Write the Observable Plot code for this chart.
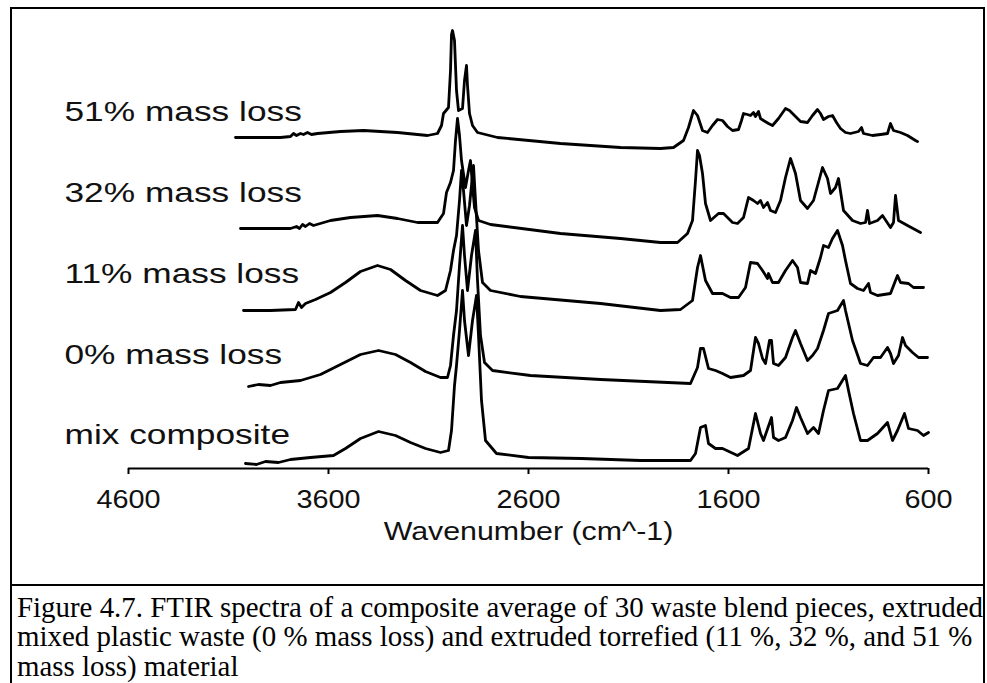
<!DOCTYPE html>
<html>
<head>
<meta charset="utf-8">
<script src="https://cdn.jsdelivr.net/npm/d3@7"></script>
<script src="https://cdn.jsdelivr.net/npm/@observablehq/plot@0.6"></script>
<style>
  html, body { margin: 0; padding: 0; background: #fff; }
  body { width: 987px; height: 683px; position: relative; overflow: hidden; }
  #chart { position: absolute; left: 0; top: 0; }
  #frame { position: absolute; left: 10px; top: 7px; width: 971px; height: 700px; border: 2px solid #000; }
  #sep { position: absolute; left: 10px; top: 584px; width: 975px; height: 2px; background: #000; }
  #caption { position: absolute; left: 17px; top: 592.6px; font-family: "Liberation Serif", "Times New Roman", serif;
             font-size: 28.5px; line-height: 29.5px; color: #000; }
  #caption div { white-space: nowrap; transform-origin: 0 0; width: max-content; }
</style>
</head>
<body>
<div id="frame"></div>
<div id="sep"></div>
<div id="chart"></div>
<div id="caption">
  <div>Figure 4.7. FTIR spectra of a composite average of 30 waste blend pieces, extruded</div>
  <div>mixed plastic waste (0 % mass loss) and extruded torrefied (11 %, 32 %, and 51 %</div>
  <div>mass loss) material</div>
</div>
<script>
// ---- Data: wavenumber (cm^-1) and offset absorbance (a.u.) ----
const seriesNames = ["51% mass loss", "32% mass loss", "11% mass loss", "0% mass loss", "mix composite"];
const xTicks = [4600, 3600, 2600, 1600, 600];
const xTitle = "Wavenumber (cm^-1)";

const wn51 = [4065,3930,3840,3790,3775,3760,3740,3725,3705,3685,3655,3540,3425,3255,3105,3055,3035,3025,3000,2990,2985,2980,2970,2960,2950,2930,2920,2910,2905,2895,2880,2855,2755,2440,2140,1940,1875,1825,1800,1775,1755,1730,1705,1680,1655,1630,1605,1580,1550,1535,1525,1505,1490,1475,1465,1450,1440,1425,1400,1380,1350,1315,1295,1280,1240,1205,1180,1155,1140,1125,1100,1080,1060,1040,1015,990,950,935,925,880,840,805,790,775,740,705,665,655];
const ab51 = [33.1,33.1,33.1,33.2,33.5,33.3,33.5,33.4,33.6,33.4,33.5,33.7,33.8,33.6,33.3,33.5,34.3,35.5,36.1,39.8,43.4,43.8,42.8,37.8,35.8,36.0,38.8,40.3,38.3,35.5,34.3,33.6,33.1,32.5,32.1,32.0,32.1,32.8,34.1,35.8,35.3,33.8,33.6,34.3,34.9,34.8,34.2,33.8,33.9,34.8,35.5,35.4,35.3,35.6,35.2,35.7,35.0,34.8,34.5,34.3,35.0,36.0,35.8,35.5,34.7,34.6,35.3,35.9,35.5,34.9,35.2,35.3,34.6,34.0,33.6,33.5,33.7,34.1,33.5,33.3,33.4,33.5,34.5,33.8,33.6,33.3,32.8,32.7];

const wn32 = [4040,3790,3760,3745,3730,3715,3695,3675,3590,3490,3355,3255,3155,3055,3025,3010,2990,2975,2965,2955,2945,2935,2915,2900,2890,2880,2870,2850,2790,2440,2140,1940,1855,1805,1780,1765,1755,1745,1730,1715,1690,1650,1625,1580,1555,1525,1500,1475,1455,1440,1425,1405,1390,1365,1340,1315,1290,1265,1240,1205,1175,1130,1105,1090,1065,1050,1025,980,940,915,905,895,855,830,790,775,765,750,705,640];
const ab32 = [24.0,24.0,24.2,24.0,24.4,24.2,24.5,24.3,24.8,25.1,25.3,25.0,24.6,24.6,25.5,27.6,28.6,29.8,32.8,35.0,33.3,30.8,28.1,29.8,30.8,28.3,26.1,24.8,24.4,23.5,23.0,22.6,22.6,23.5,24.8,28.8,31.8,31.3,29.5,26.5,24.8,25.5,25.5,24.6,24.5,25.1,27.1,26.8,26.5,26.8,26.1,26.6,25.8,25.6,26.8,29.1,31.0,29.5,26.8,26.0,26.8,30.1,29.0,27.5,28.1,29.0,25.8,24.8,24.5,24.6,25.8,24.5,24.8,25.3,24.1,24.6,27.3,24.8,24.3,23.6];

const wn11 = [4025,3890,3765,3750,3735,3715,3665,3590,3515,3440,3355,3290,3215,3140,3055,3015,2990,2975,2960,2945,2935,2925,2910,2895,2875,2865,2850,2830,2790,2640,2240,1940,1840,1780,1755,1740,1715,1680,1630,1590,1550,1515,1490,1455,1430,1405,1400,1380,1350,1315,1280,1255,1240,1205,1190,1165,1140,1125,1100,1080,1055,1030,1015,990,955,925,900,890,855,790,765,755,740,700,675,625];
const ab11 = [15.8,15.8,15.9,16.6,16.1,16.5,16.9,17.6,18.6,19.7,20.3,19.9,18.8,17.8,17.3,17.8,19.8,21.8,23.3,26.8,29.8,27.8,24.3,26.3,30.3,26.8,21.8,18.6,17.8,17.2,16.5,15.8,15.9,16.8,20.1,21.3,18.8,17.5,17.5,17.1,17.1,18.1,20.6,20.5,19.8,19.0,19.5,18.6,18.6,19.8,20.8,20.1,18.6,18.5,19.8,19.5,21.1,22.3,22.1,23.0,23.8,22.3,20.8,18.5,18.0,17.8,18.5,17.6,17.3,17.5,18.8,19.3,18.6,18.5,18.1,18.1];

const wn0 = [4000,3950,3890,3840,3740,3640,3540,3440,3350,3265,3190,3115,3040,3005,2990,2975,2960,2945,2930,2920,2905,2885,2865,2855,2840,2820,2780,2590,2240,1790,1755,1740,1725,1700,1665,1630,1590,1525,1490,1465,1450,1430,1415,1395,1385,1375,1350,1315,1280,1265,1240,1205,1180,1155,1125,1100,1055,1025,1015,980,940,905,875,840,805,790,775,750,730,715,680,650,605];
const ab0 = [8.2,8.4,8.3,8.6,8.8,9.4,10.4,11.4,11.8,11.4,10.6,9.7,9.1,9.1,10.3,13.3,15.8,20.3,24.3,21.3,17.8,21.3,23.8,18.8,13.3,10.6,9.8,9.3,8.9,8.5,10.1,12.0,12.0,10.0,9.8,9.5,9.1,9.3,9.8,13.1,12.5,11.0,10.5,12.8,12.8,10.5,10.3,11.1,13.1,13.8,12.5,10.8,11.3,12.0,13.8,15.5,15.8,16.8,15.8,12.8,10.5,10.3,11.1,11.1,12.1,11.5,10.5,11.3,13.1,12.3,11.6,11.1,11.1];

const wnMix = [4015,3960,3915,3850,3790,3690,3575,3515,3440,3350,3265,3190,3115,3040,3000,2985,2970,2960,2945,2930,2920,2900,2880,2860,2850,2835,2815,2760,2600,2335,2040,1790,1765,1740,1715,1700,1665,1630,1555,1500,1465,1440,1425,1385,1375,1350,1315,1280,1260,1240,1205,1175,1150,1125,1100,1055,1015,1000,975,940,905,855,805,780,755,720,700,655,625,600];
const abMix = [0.5,0.4,0.7,0.6,0.9,1.1,1.3,2.0,3.0,3.7,3.3,2.6,2.0,1.6,1.8,3.8,8.3,10.3,13.8,17.8,14.8,11.3,14.8,17.3,13.3,6.8,2.8,1.5,1.1,1.0,0.8,0.8,1.5,4.1,4.3,2.5,2.0,2.0,1.3,2.0,5.5,3.5,2.8,5.1,3.1,2.8,3.1,4.8,6.1,5.1,3.5,4.1,3.5,5.8,7.8,8.0,9.3,7.8,5.5,2.8,2.8,3.5,4.6,2.8,3.8,5.5,4.0,3.8,3.3,3.6];

// ---- Build table for Plot ----
const seriesWn = [wn51, wn32, wn11, wn0, wnMix];
const seriesAb = [ab51, ab32, ab11, ab0, abMix];
const spectra = seriesNames.flatMap((name, i) =>
  seriesWn[i].map((w, j) => ({series: name, wn: w, ab: seriesAb[i][j]})));
const labelRows = seriesNames.map((name, i) => ({name, i}));

const svg = Plot.plot({
  width: 987,
  height: 585,
  marginLeft: 128,
  marginRight: 59,
  marginTop: 28,
  marginBottom: 117,
  style: {fontFamily: "'Liberation Sans', Arial, sans-serif", background: "transparent", color: "#000", overflow: "visible"},
  x: {domain: [4600, 600]},
  y: {domain: [0, 44], axis: null},
  marks: [
    Plot.ruleY([0], {stroke: "#000", strokeWidth: 2}),
    Plot.axisX({ticks: xTicks, tickFormat: d => String(d), tickSize: 6, tickPadding: 15,
                strokeWidth: 2, fontSize: 25.5, label: null, fill: "#111"}),
    Plot.line(spectra, {x: "wn", y: "ab", z: "series", stroke: "#000", strokeWidth: 2.8,
                        strokeLinejoin: "round", curve: "linear"}),
    Plot.text(labelRows, {x: () => 4920, y: d => 35.6 - 8.07 * d.i, text: "name", textAnchor: "start",
                          lineAnchor: "middle", fontSize: 28, fill: "#111", ariaDescription: "series-labels"}),
    Plot.text([xTitle], {frameAnchor: "bottom", dy: 63, lineAnchor: "middle", fontSize: 25.5,
                         fill: "#111", ariaDescription: "x-title"})
  ]
});
document.getElementById("chart").append(svg);

function stretch(selector, k) {
  svg.querySelectorAll(selector).forEach(t => {
    const L = t.getComputedTextLength();
    t.setAttribute("textLength", (L * k).toFixed(1));
    t.setAttribute("lengthAdjust", "spacingAndGlyphs");
  });
}
stretch('g[aria-description="series-labels"] text', 1.26);
stretch('g[aria-description="x-title"] text', 1.19);
stretch('g[aria-label="x-axis tick label"] text', 1.13);

// caption: stretch lines so the first line spans the caption box width
const capLines = document.querySelectorAll("#caption div");
const natural = capLines[0].getBoundingClientRect().width;
const k = 966 / natural;
capLines.forEach(el => { el.style.transform = `scaleX(${k})`; });
</script>
</body>
</html>
